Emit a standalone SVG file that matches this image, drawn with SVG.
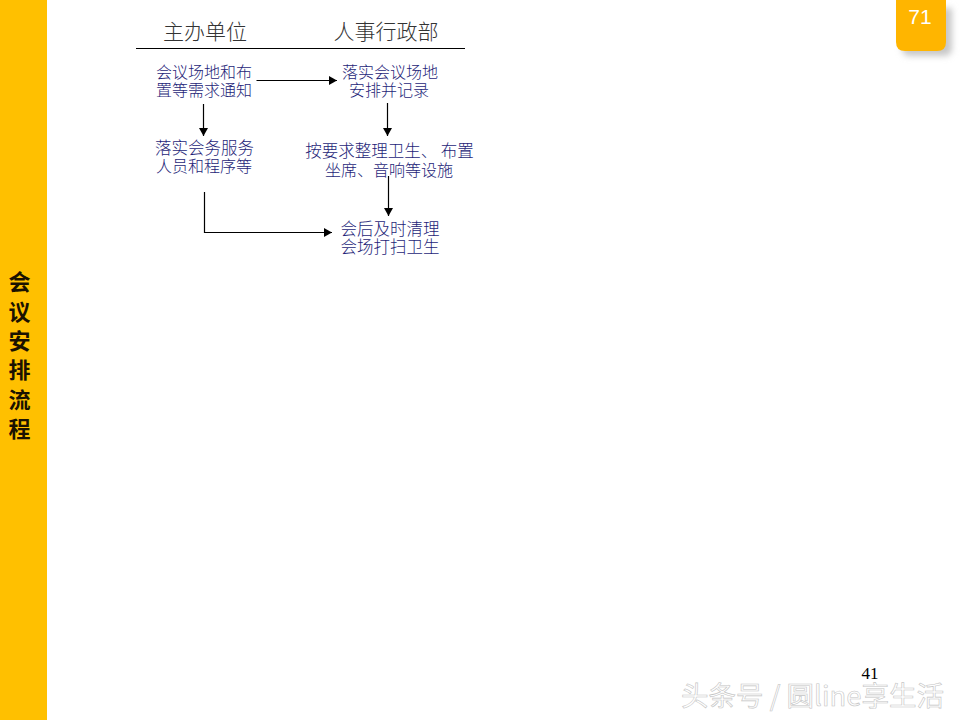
<svg xmlns="http://www.w3.org/2000/svg" width="960" height="720" viewBox="0 0 960 720">
<style>
.h{font-family:"Noto Sans CJK SC","Liberation Sans",sans-serif;font-size:21px;fill:#333;text-anchor:middle;font-weight:300}
.t{font-family:"Noto Sans CJK SC","Liberation Sans",sans-serif;font-size:16.500px;fill:#1e1e78;text-anchor:middle;font-weight:300}
.m{font-size:16px}
.s{font-family:"Noto Sans CJK SC",sans-serif;font-size:22px;font-weight:700;fill:#1a1200;text-anchor:middle}
.w{font-family:"Noto Sans CJK SC","Liberation Sans",sans-serif;font-size:27.500px;fill:#fff;stroke:#c4c4c4;stroke-width:.6;text-anchor:middle}
.c{fill:none;stroke:#000;stroke-width:1.2}
</style>
<defs>
<marker id="a" markerUnits="userSpaceOnUse" markerWidth="9" markerHeight="9" refX="8" refY="4.5" orient="auto"><path d="M0 0L8 4.5L0 9z" fill="#000"/></marker>
<filter id="b" x="-30%" y="-30%" width="170%" height="170%"><feGaussianBlur stdDeviation="3"/></filter>
</defs>
<rect width="960" height="720" fill="#fff"/>
<g id="sidebar"><rect x="0" y="0" width="47" height="720" fill="#ffc000"/>
<text class="s" x="19.500" y="290">会</text><text class="s" x="19.500" y="320">议</text><text class="s" x="19.500" y="349">安</text><text class="s" x="19.500" y="378">排</text><text class="s" x="19.500" y="408">流</text><text class="s" x="19.500" y="437">程</text></g>
<g id="badge"><path d="M902 8H952V48Q952 56 944 56H910Q902 56 902 48Z" fill="#c8c8c8" filter="url(#b)"/>
<path d="M896 0H946V42Q946 51 937 51H905Q896 51 896 42Z" fill="#ffb500"/>
<text x="920" y="23.500" font-family="Liberation Sans,sans-serif" font-size="21" fill="#fff" text-anchor="middle">71</text></g>
<g id="header"><text class="h" x="205" y="39">主办单位</text><text class="h" x="386" y="39">人事行政部</text><line x1="136" y1="48.500" x2="465" y2="48.500" stroke="#000" stroke-width="1"/></g>
<g id="n1"><text class="t m"><tspan x="204" y="78">会议场地和布</tspan><tspan x="204" y="96">置等需求通知</tspan></text></g>
<g id="n2"><text class="t m"><tspan x="390" y="78">落实会议场地</tspan><tspan x="389" y="96">安排并记录</tspan></text></g>
<g id="n3"><text class="t"><tspan x="204.500" y="154">落实会务服务</tspan><tspan class="m" x="204" y="172">人员和程序等</tspan></text></g>
<g id="n4"><text class="t"><tspan x="389.500" y="157">按要求整理卫生、 布置</tspan><tspan class="m" x="389" y="176">坐席、音响等设施</tspan></text></g>
<g id="n5"><text class="t"><tspan x="390" y="235">会后及时清理</tspan><tspan x="390" y="253">会场打扫卫生</tspan></text></g>
<g id="connectors">
<path class="c" d="M256.500 80.500H337" marker-end="url(#a)"/>
<path class="c" d="M203.500 104V136" marker-end="url(#a)"/>
<path class="c" d="M387.500 103V136" marker-end="url(#a)"/>
<path class="c" d="M388.500 176V216" marker-end="url(#a)"/>
<path class="c" d="M204.500 192V232.500H332" marker-end="url(#a)"/>
</g>
<g id="footer"><text x="870" y="679" font-family="Liberation Serif,serif" font-size="17" fill="#000" text-anchor="middle">41</text>
<text class="w" x="812.500" y="706">头条号 / 圆line享生活</text></g>
</svg>
